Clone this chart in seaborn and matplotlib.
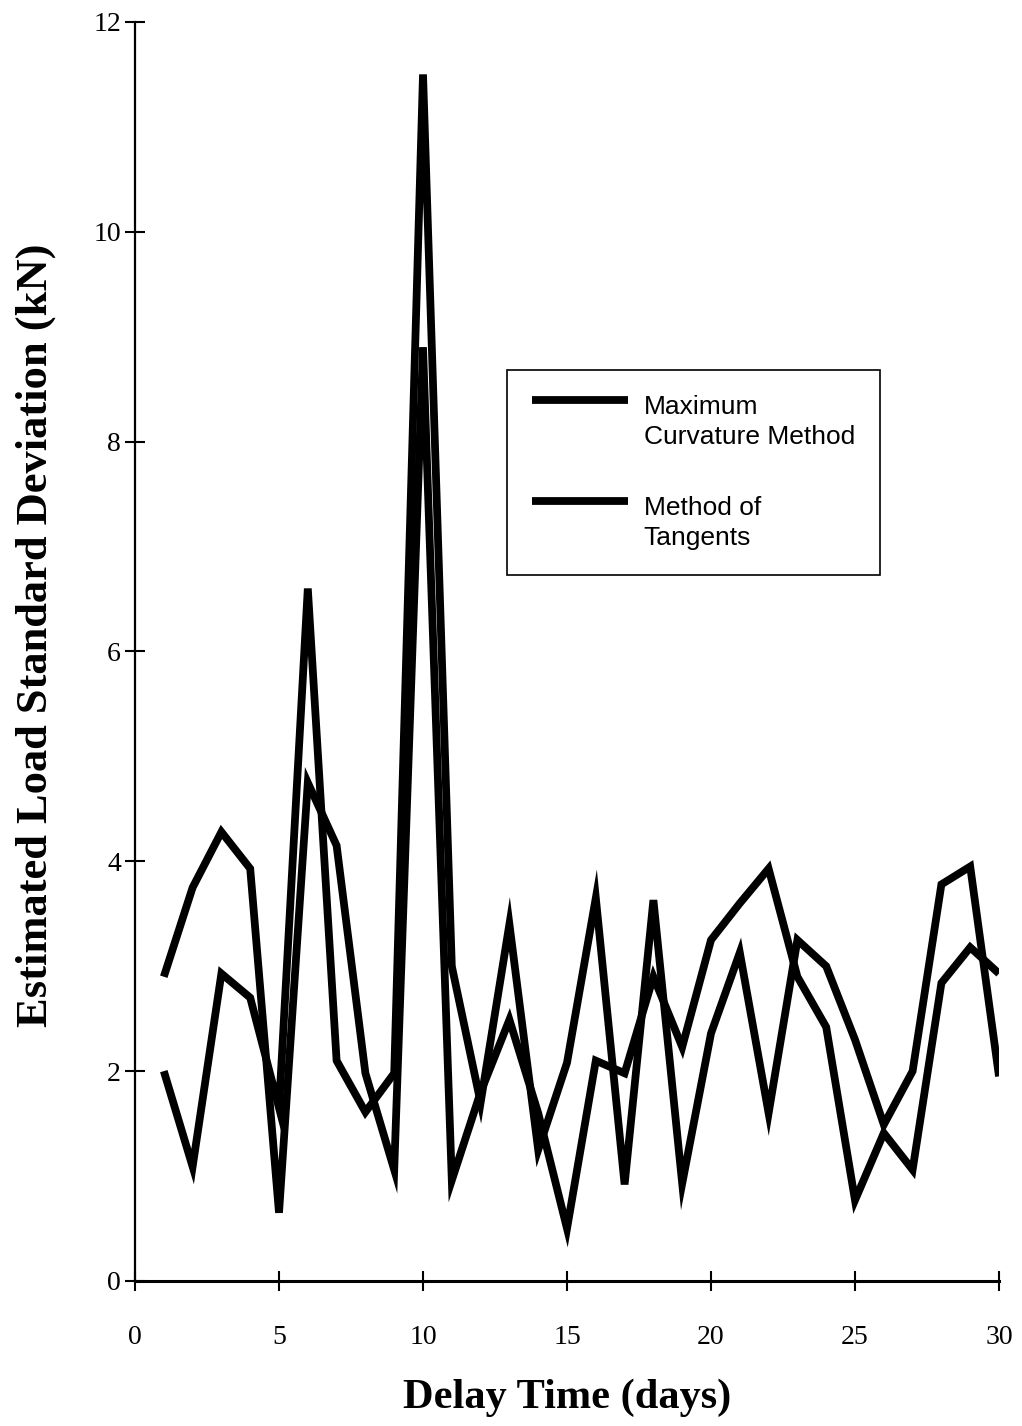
import numpy as np
import pandas as pd
import matplotlib
matplotlib.use("Agg")
import matplotlib.pyplot as plt
import seaborn as sns
from matplotlib.legend_handler import HandlerLine2D

# Delay time (days) and estimated load standard deviation (kN) for each method
days = list(range(1, 31))
max_curvature = [2.0, 1.09, 2.93, 2.7, 1.65, 6.6, 2.1, 1.61, 1.98, 11.5,
                 3.0, 1.7, 3.4, 1.25, 2.08, 3.65, 0.92, 3.63, 0.93, 2.36,
                 3.13, 1.6, 3.25, 3.0, 2.3, 1.49, 2.0, 3.78, 3.95, 1.95]
tangents = [2.9, 3.75, 4.28, 3.93, 0.65, 4.75, 4.15, 1.98, 1.06, 8.9,
            0.96, 1.8, 2.49, 1.6, 0.5, 2.1, 1.98, 2.9, 2.23, 3.25,
            3.6, 3.93, 2.9, 2.42, 0.77, 1.41, 1.06, 2.84, 3.18, 2.93]
method_labels = ["Maximum\nCurvature Method", "Method of\nTangents"]

x_ticks = [0, 5, 10, 15, 20, 25, 30]
y_ticks = [0, 2, 4, 6, 8, 10, 12]

df = pd.DataFrame({
    "Delay Time": days * 2,
    "Std": max_curvature + tangents,
    "Method": [method_labels[0]] * len(days) + [method_labels[1]] * len(days),
})

sns.set_style("ticks")
plt.rcParams["font.family"] = ["Liberation Serif", "DejaVu Serif"]
plt.rcParams.update({
    "text.color": "black",
    "axes.labelcolor": "black",
    "xtick.color": "black",
    "ytick.color": "black",
    "axes.edgecolor": "black",
})

fig = plt.figure(figsize=(10.22, 14.26), dpi=100)
ax = fig.add_axes([0.1321, 0.1017, 0.8454, 0.8829])

sns.lineplot(data=df, x="Delay Time", y="Std", hue="Method",
             palette=["black", "black"], linewidth=5.6, sort=False,
             legend=False, ax=ax)
for ln in ax.lines:
    ln.set_solid_joinstyle("miter")
    ln.set_solid_capstyle("butt")

ax.set_xlim(0, 30)
ax.set_ylim(0, 12)
ax.set_xticks(x_ticks)
ax.set_yticks(y_ticks)
ax.set_xticklabels([str(t) for t in x_ticks])
ax.set_yticklabels([str(t) for t in y_ticks])
ax.tick_params(direction="inout", length=14, width=1.5, labelsize=20,
               colors="black")
ax.tick_params(axis="x", pad=25)
ax.tick_params(axis="y", pad=3)
for side in ("top", "right"):
    ax.spines[side].set_visible(False)
ax.spines["left"].set_linewidth(1.6)
ax.spines["bottom"].set_linewidth(2.2)

ax.set_xlabel("Delay Time (days)", fontsize=30.5, fontweight="bold",
              labelpad=20)
ax.set_ylabel("Estimated Load Standard Deviation (kN)", fontsize=32,
              fontweight="bold", labelpad=27)
ax.yaxis.label.set_y(0.513)


class RaisedLineHandler(HandlerLine2D):
    """Legend line drawn level with the first row of a two-row label."""

    def __init__(self, raise_pts=0.0, **kw):
        super().__init__(**kw)
        self.raise_pts = raise_pts

    def create_artists(self, legend, orig_handle, xdescent, ydescent,
                       width, height, fontsize, trans):
        artists = super().create_artists(legend, orig_handle, xdescent,
                                         ydescent, width, height, fontsize,
                                         trans)
        for a in artists:
            a.set_ydata(np.asarray(a.get_ydata()) + self.raise_pts)
        return artists


handles = ax.lines[:2]
leg = ax.legend(handles, method_labels, loc="upper left",
                bbox_to_anchor=(0.43, 0.7236), borderaxespad=0,
                prop={"family": ["Liberation Sans", "DejaVu Sans"], "size": 19},
                frameon=True, fancybox=False, edgecolor="black",
                framealpha=1, handlelength=3.65, handletextpad=0.6,
                labelspacing=1.8, borderpad=0.95,
                handler_map={h: RaisedLineHandler(raise_pts=16) for h in handles})
leg.get_frame().set_linewidth(1.2)
for t in leg.get_texts():
    t.set_linespacing(1.3)

fig.savefig("out.png", dpi=100, facecolor="white")
